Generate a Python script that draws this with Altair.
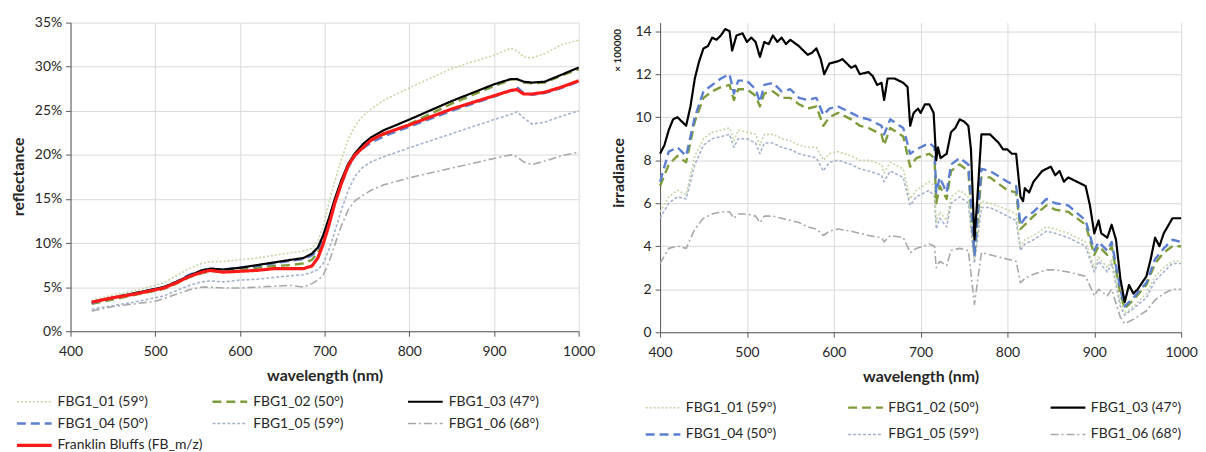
import altair as alt
import pandas as pd

FONT = "Lato"

# ---------------- data: reflectance (left panel), values in % ----------------
wl_refl = [425, 450, 475, 500, 510, 525, 540, 555, 565, 580, 600, 620, 640, 660, 675, 685,
           692, 698, 705, 712, 720, 728, 736, 745, 755, 770, 800, 850, 900, 920, 927, 935,
           945, 960, 980, 1000]
refl_01 = [3.5, 4.1, 4.6, 5.2, 5.5, 6.3, 7.1, 7.7, 7.9, 7.9, 8.1, 8.3, 8.6, 8.9, 9.1, 9.4,
           10.2, 11.8, 14.5, 17.0, 19.5, 21.8, 23.3, 24.4, 25.2, 26.2, 27.6, 29.8, 31.3, 32.1, 31.8, 31.1,
           31.0, 31.5, 32.5, 33.0]
refl_02 = [3.1, 3.6, 4.1, 4.6, 4.8, 5.4, 6.1, 6.6, 6.8, 6.8, 7.0, 7.2, 7.4, 7.5, 7.7, 8.1,
           8.9, 10.3, 12.4, 14.8, 17.0, 18.9, 20.1, 20.9, 21.6, 22.3, 23.5, 25.8, 27.8, 28.5, 28.6, 28.2,
           28.1, 28.2, 29.0, 29.7]
refl_03 = [3.3, 3.8, 4.3, 4.8, 5.0, 5.6, 6.3, 6.9, 7.1, 7.0, 7.2, 7.5, 7.8, 8.1, 8.3, 8.8,
           9.5, 10.8, 12.8, 15.0, 17.2, 19.0, 20.2, 21.2, 22.0, 22.8, 24.0, 26.1, 28.0, 28.6, 28.6, 28.3,
           28.2, 28.3, 29.1, 29.9]
refl_04 = [3.2, 3.8, 4.3, 4.8, 5.0, 5.6, 6.4, 6.9, 7.1, 7.0, 7.2, 7.4, 7.7, 8.0, 8.2, 8.6,
           9.2, 10.5, 12.4, 14.6, 16.8, 18.6, 19.9, 20.7, 21.4, 22.1, 23.2, 25.0, 26.6, 27.3, 27.7, 27.0,
           26.8, 27.0, 27.6, 28.3]
refl_05 = [2.5, 2.9, 3.3, 3.8, 4.0, 4.6, 5.2, 5.6, 5.7, 5.6, 5.8, 5.9, 6.1, 6.3, 6.4, 6.7,
           7.0, 7.6, 9.2, 11.3, 13.8, 16.0, 17.6, 18.6, 19.2, 19.8, 20.8, 22.4, 24.0, 24.6, 24.9, 24.2,
           23.5, 23.7, 24.4, 25.0]
refl_06 = [2.3, 2.8, 3.1, 3.4, 3.7, 4.2, 4.7, 5.0, 5.0, 4.9, 4.9, 5.0, 5.1, 5.2, 5.0, 5.4,
           5.8, 6.3, 7.8, 9.8, 12.0, 13.8, 14.8, 15.4, 16.0, 16.6, 17.4, 18.5, 19.6, 20.0, 19.8, 19.2,
           18.9, 19.3, 19.9, 20.3]
refl_fb = [3.3, 3.8, 4.2, 4.7, 4.9, 5.5, 6.2, 6.7, 6.9, 6.7, 6.8, 6.9, 7.1, 7.1, 7.1, 7.4,
           8.3, 9.8, 12.0, 14.5, 16.8, 18.8, 20.0, 20.8, 21.7, 22.4, 23.4, 25.2, 26.7, 27.3, 27.4, 26.9,
           26.9, 27.1, 27.7, 28.4]

# ---------------- data: irradiance (right panel), x 100000 ----------------
wl_irr = [400, 410, 420, 430, 440, 450, 460, 470, 480, 485, 490, 500, 510, 515, 520, 530, 540,
          550, 560, 570, 580, 588, 595, 605, 620, 630, 640, 655, 658, 665, 680, 688, 695, 710,
          716, 718, 722, 730, 735, 745, 755, 762, 770, 780, 800, 810, 815, 820, 830, 845, 855,
          870, 890, 900, 905, 915, 920, 930, 935, 945, 960, 970, 980, 990, 1000]
irr_01 = [5.6, 6.3, 6.6, 6.4, 8.2, 9.0, 9.3, 9.4, 9.5, 8.9, 9.4, 9.3, 9.2, 8.7, 9.2, 9.2, 9.0,
          8.9, 8.7, 8.6, 8.6, 8.0, 8.3, 8.4, 8.2, 8.0, 8.0, 7.8, 7.4, 7.9, 7.6, 6.2, 6.6, 7.0,
          6.8, 5.1, 5.6, 5.2, 6.3, 6.6, 6.3, 3.4, 6.1, 6.0, 5.7, 5.5, 4.0, 4.3, 4.5, 4.9, 4.8,
          4.6, 4.2, 3.0, 3.5, 3.0, 3.4, 1.4, 0.9, 1.2, 1.8, 2.6, 3.0, 3.3, 3.3]
irr_02 = [6.8, 7.8, 8.2, 7.9, 9.8, 10.9, 11.2, 11.4, 11.5, 10.8, 11.3, 11.3, 11.0, 10.5, 11.1, 11.2, 10.9,
          10.9, 10.6, 10.4, 10.5, 9.6, 10.0, 10.2, 9.9, 9.6, 9.5, 9.2, 8.7, 9.5, 9.1, 7.7, 8.1, 8.3,
          8.1, 6.0, 6.8, 6.2, 7.5, 7.8, 7.5, 3.6, 7.2, 7.2, 6.6, 6.5, 4.8, 5.0, 5.4, 5.9, 5.7,
          5.6, 5.0, 3.6, 4.0, 3.6, 4.0, 1.8, 1.1, 1.5, 2.2, 3.2, 3.7, 4.0, 4.0]
irr_04 = [7.0, 8.4, 8.6, 8.2, 10.0, 11.2, 11.5, 11.8, 12.0, 11.1, 11.7, 11.7, 11.3, 10.7, 11.5, 11.6, 11.2,
          11.3, 10.9, 10.8, 10.9, 10.1, 10.4, 10.5, 10.2, 10.0, 9.9, 9.6, 9.2, 9.9, 9.5, 8.3, 8.5, 8.8,
          8.6, 6.5, 7.2, 6.5, 7.8, 8.1, 7.8, 3.6, 7.6, 7.5, 7.0, 6.8, 5.0, 5.3, 5.6, 6.2, 6.0,
          5.9, 5.2, 3.8, 4.2, 3.8, 4.2, 2.0, 1.2, 1.6, 2.3, 3.4, 3.9, 4.3, 4.2]
irr_05 = [5.3, 6.0, 6.3, 6.2, 7.8, 8.7, 9.0, 9.1, 9.2, 8.6, 9.0, 9.0, 8.8, 8.3, 8.8, 8.8, 8.6,
          8.5, 8.3, 8.2, 8.1, 7.5, 7.9, 8.0, 7.8, 7.6, 7.5, 7.3, 7.0, 7.5, 7.2, 5.9, 6.3, 6.6,
          6.3, 4.8, 5.3, 4.9, 6.0, 6.3, 6.0, 3.2, 5.8, 5.8, 5.4, 5.2, 3.8, 4.1, 4.3, 4.7, 4.6,
          4.4, 4.0, 2.8, 3.3, 2.8, 3.2, 1.2, 0.8, 1.1, 1.6, 2.4, 2.8, 3.2, 3.2]
irr_06 = [3.2, 3.9, 4.0, 3.9, 4.8, 5.3, 5.5, 5.6, 5.6, 5.3, 5.5, 5.5, 5.4, 5.1, 5.4, 5.4, 5.3,
          5.2, 5.1, 4.9, 4.8, 4.5, 4.7, 4.8, 4.7, 4.6, 4.5, 4.4, 4.2, 4.5, 4.4, 3.7, 3.9, 4.1,
          4.0, 3.0, 3.3, 3.1, 3.8, 3.9, 3.8, 1.3, 3.7, 3.6, 3.4, 3.3, 2.3, 2.5, 2.7, 2.9, 2.9,
          2.8, 2.6, 1.7, 2.0, 1.7, 2.0, 0.7, 0.4, 0.6, 1.0, 1.5, 1.8, 2.0, 2.0]

wl_irr_03 = [400, 405, 410, 415, 420, 425, 430, 435, 440, 445, 450, 455, 460, 465, 470, 475, 480,
             483, 488, 495, 500, 505, 510, 515, 520, 525, 530, 535, 540, 545, 550, 560, 565, 570,
             575, 580, 585, 589, 595, 605, 610, 620, 625, 630, 640, 645, 650, 655, 658, 662, 670,
             680, 685, 688, 692, 697, 700, 705, 710, 715, 718, 720, 723, 730, 735, 740, 745, 750,
             755, 758, 762, 765, 770, 780, 790, 795, 800, 805, 810, 815, 818, 820, 825, 830, 840,
             850, 855, 860, 865, 870, 880, 890, 895, 900, 905, 908, 915, 920, 925, 930, 935, 940,
             945, 950, 960, 965, 970, 975, 980, 990, 1000]
irr_03 = [8.3, 8.7, 9.4, 9.9, 10.0, 9.8, 9.6, 10.5, 11.8, 12.6, 13.2, 13.3, 13.7, 13.6, 13.8, 14.1, 14.0,
          13.1, 13.8, 13.9, 13.5, 13.7, 13.5, 12.8, 13.5, 13.4, 13.8, 13.5, 13.7, 13.4, 13.6, 13.3, 13.1, 12.9,
          13.0, 13.2, 12.7, 12.0, 12.5, 12.6, 12.7, 12.3, 12.4, 12.0, 12.1, 11.9, 11.5, 11.6, 10.8, 11.8, 11.8,
          11.6, 11.4, 9.6, 10.2, 10.4, 10.2, 10.6, 10.6, 10.2, 8.0, 8.6, 8.1, 8.3, 9.3, 9.5, 9.9, 9.8,
          9.6, 8.5, 4.3, 6.0, 9.2, 9.2, 8.8, 8.5, 8.5, 8.3, 8.3, 6.3, 6.1, 6.7, 6.5, 7.0, 7.5,
          7.7, 7.3, 7.5, 7.0, 7.2, 7.0, 6.8, 5.9, 4.6, 5.2, 4.6, 4.4, 5.0, 4.3, 2.5, 1.4, 2.2,
          1.8, 2.0, 2.6, 3.4, 4.4, 4.0, 4.6, 5.3, 5.3]

# ---------------- series names / styles ----------------
names = ["FBG1_01 (59°)", "FBG1_02 (50°)", "FBG1_03 (47°)", "FBG1_04 (50°)",
         "FBG1_05 (59°)", "FBG1_06 (68°)", "Franklin Bluffs (FB_m/z)"]
colors = ["#c5d5a5", "#7f9c3a", "#000000", "#5b7fd0", "#a3b2cc", "#a8a8a8", "#ff1a1a"]
dashes = [[2, 2], [9, 5], [1, 0], [9, 5], [3, 2], [8, 3, 2, 3], [1, 0]]
widths = [1.6, 2.4, 2.2, 2.4, 1.6, 1.6, 3.2]


def rows(name, wls, vals):
    assert len(wls) == len(vals), name
    return [{"series": name, "wl": w, "val": v} for w, v in zip(wls, vals)]


# drawing order: faint series first, red on top
refl_rows = (rows(names[5], wl_refl, refl_06) + rows(names[4], wl_refl, refl_05)
             + rows(names[0], wl_refl, refl_01) + rows(names[1], wl_refl, refl_02)
             + rows(names[3], wl_refl, refl_04) + rows(names[2], wl_refl, refl_03)
             + rows(names[6], wl_refl, refl_fb))
irr_rows = (rows(names[5], wl_irr, irr_06) + rows(names[4], wl_irr, irr_05)
            + rows(names[0], wl_irr, irr_01) + rows(names[1], wl_irr, irr_02)
            + rows(names[3], wl_irr, irr_04) + rows(names[2], wl_irr_03, irr_03))
df_refl = pd.DataFrame(refl_rows)
df_irr = pd.DataFrame(irr_rows)

TXT = "#262626"
GRID = "#d9d9d9"
AX = "#595959"


def x_axis():
    return alt.Axis(values=list(range(400, 1001, 100)), format="d", title="wavelength (nm)",
                    titleFontSize=16, titleFontWeight="bold", titleColor=TXT,
                    titleY=45, titleBaseline="middle",
                    labelFontSize=14, labelColor=TXT, labelPadding=8,
                    grid=True, gridColor=GRID, domainColor=AX, tickColor=AX, tickSize=5,
                    labelFlush=False)


def legend(lx, ly, col_pad, row_pad, grid_align):
    return alt.Legend(orient="none", legendX=lx, legendY=ly, columns=3, direction="horizontal",
                      title=None, symbolType="stroke", symbolSize=1225, clipHeight=20,
                      rowPadding=row_pad, columnPadding=col_pad, gridAlign=grid_align,
                      labelFont=FONT, labelFontSize=14, labelColor=TXT, labelOffset=4,
                      labelLimit=400)


# ---------------- left chart ----------------
lg_left = legend(-56, 372, 7, 2, "all")
left = alt.Chart(df_refl).mark_line(strokeJoin="round").encode(
    x=alt.X("wl:Q", scale=alt.Scale(domain=[400, 1000], nice=False), axis=x_axis()),
    y=alt.Y("val:Q", scale=alt.Scale(domain=[0, 35], nice=False),
            axis=alt.Axis(values=list(range(0, 36, 5)), labelExpr="datum.value + '%'",
                          title="reflectance", titleFontSize=16, titleFontWeight="bold",
                          titleColor=TXT, titleX=-52, titleY=155, titleAngle=270,
                          titleBaseline="middle", titleAlign="center",
                          labelFontSize=14, labelColor=TXT, labelPadding=4,
                          grid=True, gridColor=GRID, domainColor=AX, tickColor=AX, tickSize=5)),
    color=alt.Color("series:N", scale=alt.Scale(domain=names, range=colors), legend=lg_left),
    strokeDash=alt.StrokeDash("series:N", scale=alt.Scale(domain=names, range=dashes), legend=lg_left),
    strokeWidth=alt.StrokeWidth("series:N", scale=alt.Scale(type="ordinal", domain=names, range=widths),
                                legend=lg_left),
).properties(width=512, height=311)

# ---------------- right chart ----------------
lg_right = legend(-16, 378, 70, 7, "each")
r_names = names[:6]
r_lines = alt.Chart(df_irr).mark_line(strokeJoin="round").encode(
    x=alt.X("wl:Q", scale=alt.Scale(domain=[400, 1000], nice=False), axis=x_axis()),
    y=alt.Y("val:Q", scale=alt.Scale(domain=[0, 14.4], nice=False),
            axis=alt.Axis(values=list(range(0, 15, 2)),
                          title="irradiance", titleFontSize=16, titleFontWeight="bold",
                          titleColor=TXT, titleX=-42, titleY=151, titleAngle=270,
                          titleBaseline="middle", titleAlign="center",
                          labelFontSize=14, labelColor=TXT, labelPadding=4,
                          grid=True, gridColor=GRID, domainColor=AX, tickColor=AX, tickSize=5)),
    color=alt.Color("series:N", scale=alt.Scale(domain=r_names, range=colors[:6]), legend=lg_right),
    strokeDash=alt.StrokeDash("series:N", scale=alt.Scale(domain=r_names, range=dashes[:6]),
                              legend=lg_right),
    strokeWidth=alt.StrokeWidth("series:N", scale=alt.Scale(type="ordinal", domain=r_names,
                                                            range=widths[:6]), legend=lg_right),
)
unit_label = alt.Chart(pd.DataFrame({"t": ["× 100000"]})).mark_text(
    angle=270, font=FONT, fontSize=10, fontWeight="bold", color=TXT, baseline="middle", align="center"
).encode(x=alt.value(-42), y=alt.value(28), text="t:N")

right = alt.layer(r_lines, unit_label).properties(width=525, height=312)

chart = alt.hconcat(left, right, spacing=15).resolve_scale(
    color="independent", strokeDash="independent", strokeWidth="independent"
).properties(
    padding={"left": 3, "top": 6, "right": 0, "bottom": 0}
).configure(font=FONT).configure_view(stroke=None)

chart.save("out.html", embed_options={"renderer": "svg", "actions": False})
